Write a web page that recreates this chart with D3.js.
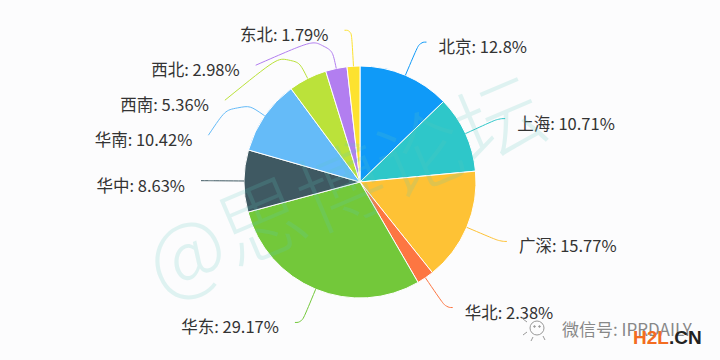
<!DOCTYPE html>
<html>
<head>
<meta charset="utf-8">
<script src="https://cdn.jsdelivr.net/npm/d3@7"></script>
<style>
  html, body { margin: 0; padding: 0; background: #fcfcfd; }
  svg { display: block; }
</style>
</head>
<body>
<div id="chart"></div>
<script>
// data
const regions = ['北京', '上海', '广深', '华北', '华东', '华中', '华南', '西南', '西北', '东北'];
const shares = [12.8, 10.71, 15.77, 2.38, 29.17, 8.63, 10.42, 5.36, 2.98, 1.79];
const colors = ['#0f9af8', '#2ec7c9', '#fec235', '#fd7642', '#73c83a',
                '#3f5962', '#65bbf8', '#bbe23a', '#b27ef0', '#fde22f'];

const width = 720, height = 360;
const cx = 360, cy = 182, radius = 116;
const len1 = 36, len2 = 7, labelGap = 35;

const svg = d3.select('#chart').append('svg')
    .attr('width', width)
    .attr('height', height);

svg.append('rect')
    .attr('width', width).attr('height', height)
    .attr('fill', '#fcfcfd');

const pie = d3.pie().sort(null).value(d => d)(shares);
const arc = d3.arc().innerRadius(0).outerRadius(radius);

const g = svg.append('g').attr('transform', `translate(${cx},${cy})`);

g.selectAll('path.slice')
  .data(pie)
  .join('path')
    .attr('class', 'slice')
    .attr('d', arc)
    .attr('fill', (d, i) => colors[i])
    .attr('stroke', '#fff')
    .attr('stroke-width', 1);

//label layout, echarts style
const labels = pie.map((d, i) => {
  const mid = (d.startAngle + d.endAngle) / 2;
  const dx = Math.sin(mid), dy = -Math.cos(mid);
  return {
    i: i,
    side: dx < 0 ? -1 : 1,
    p0: [radius * dx, radius * dy],
    p1: [(radius + len1) * dx, (radius + len1) * dy],
    y: (radius + len1) * dy
  };
});

[-1, 1].forEach(side => {
  const list = labels.filter(l => l.side === side).sort((a, b) => a.y - b.y);
  let lastY = -Infinity;
  list.forEach(l => {
    if (l.y < lastY + labelGap) l.y = lastY + labelGap;
    lastY = l.y;
  });
});

const rA = radius + len1;
labels.forEach(l => {
  const ddy = Math.abs(l.y);
  const ddx = ddy < rA ? Math.sqrt(rA * rA - ddy * ddy) : Math.abs(l.p1[0]);
  l.p2 = [l.side * (ddx + len2), l.y];
});

// rounded corner line like echarts buildLabelLinePath
const lerp = (a, b, t) => [a[0] + (b[0] - a[0]) * t, a[1] + (b[1] - a[1]) * t];
const dist = (a, b) => Math.hypot(a[0] - b[0], a[1] - b[1]);
const linePath = (p0, p1, p2, smooth) => {
  const p = d3.path();
  p.moveTo(p0[0], p0[1]);
  const l1 = dist(p0, p1), l2 = dist(p1, p2);
  const move = Math.min(l1, l2) * smooth;
  const m0 = lerp(p1, p0, move / l1);
  const m2 = lerp(p1, p2, move / l2);
  const m1 = lerp(m0, m2, 0.5);
  p.bezierCurveTo(m0[0], m0[1], m0[0], m0[1], m1[0], m1[1]);
  p.bezierCurveTo(m2[0], m2[1], m2[0], m2[1], p2[0], p2[1]);
  return p.toString();
};

g.selectAll('path.guide')
  .data(labels)
  .join('path')
    .attr('class', 'guide')
    .attr('d', l => linePath(l.p0, l.p1, l.p2, 0.5))
    .attr('fill', 'none')
    .attr('stroke', l => colors[l.i])
    .attr('stroke-width', 1);

g.selectAll('text.label')
  .data(labels)
  .join('text')
    .attr('class', 'label')
    .attr('x', l => l.p2[0] + l.side * (l.side > 0 ? 12 : 16))
    .attr('y', l => l.p2[1] + 4)
    .attr('dominant-baseline', 'central')
    .attr('text-anchor', l => l.side > 0 ? 'start' : 'end')
    .style('font-family', '"Noto Sans CJK SC", "Noto Sans", sans-serif')
    .style('font-size', '16.5px')
    .style('fill', '#333')
    .text(l => `${regions[l.i]}: ${shares[l.i]}%`);

// watermark over the chart
svg.append('text')
    .attr('transform', 'translate(342,181) rotate(-23)')
    .attr('text-anchor', 'middle')
    .attr('dominant-baseline', 'central')
    .style('font-family', '"Noto Sans CJK SC", sans-serif')
    .style('font-weight', 300)
    .style('font-size', '86px')
    .style('fill', '#5cc8bd')
    .style('opacity', 0.18)
    .text('@思博论坛');

// wechat mark bottom right
const wx = svg.append('g').attr('transform', 'translate(537,328)')
    .attr('fill', 'none').attr('stroke', '#999').attr('stroke-width', 1);
wx.append('circle').attr('r', 7);
wx.append('circle').attr('cx', -2.5).attr('cy', -1.5).attr('r', 0.8).attr('fill', '#999');
wx.append('circle').attr('cx', 2.5).attr('cy', -1.5).attr('r', 0.8).attr('fill', '#999');
[[-10, -6, -14, -9], [-10, 4, -14, 7], [6, 8, 8, 12], [-4, 9, -6, 13]].forEach(s => {
  wx.append('line').attr('x1', s[0]).attr('y1', s[1]).attr('x2', s[2]).attr('y2', s[3]);
});

svg.append('text')
    .attr('x', 562).attr('y', 328)
    .attr('dominant-baseline', 'central')
    .style('font-family', '"Noto Sans CJK SC", sans-serif')
    .style('font-size', '17px')
    .style('fill', '#888')
    .text('微信号: IPRDAILY');

const h2l = svg.append('text')
    .attr('x', 633).attr('y', 344)
    .style('font-family', '"Liberation Sans", Arial, sans-serif')
    .style('font-weight', 'bold')
    .style('font-size', '19px');
h2l.append('tspan').style('fill', '#f36c21').text('H2L');
h2l.append('tspan').style('fill', '#222').text('.CN');
</script>
</body>
</html>
